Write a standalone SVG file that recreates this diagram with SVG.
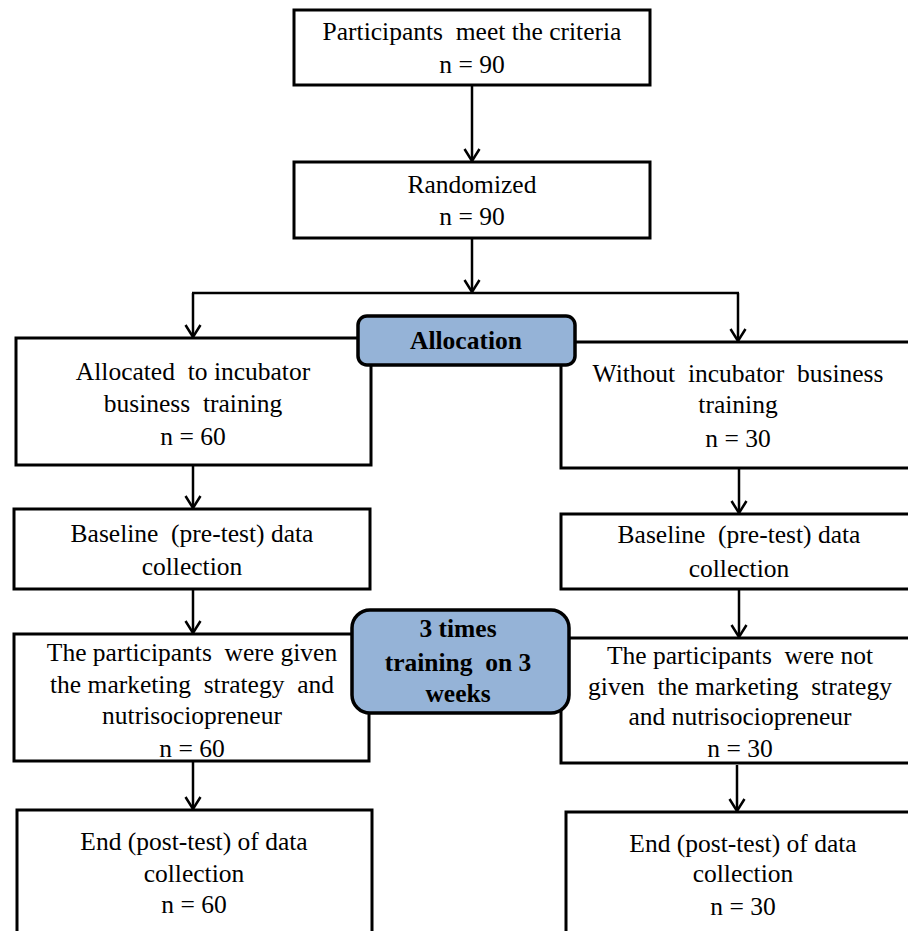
<svg xmlns="http://www.w3.org/2000/svg" width="908" height="931" viewBox="0 0 908 931" xml:space="preserve">
<style>
.box{fill:#fff;stroke:#000;stroke-width:3}
.rbox{fill:#95B3D7;stroke:#000;stroke-width:3.5}
.t{font-family:"Liberation Serif","Times New Roman",serif;font-size:25.5px;fill:#000;text-anchor:middle;white-space:pre}
.b{font-weight:bold}
.c{fill:none;stroke:#000;stroke-width:2.5}
</style>
<defs>
<marker id="arr" markerUnits="userSpaceOnUse" markerWidth="16" markerHeight="18" viewBox="0 0 14 18" refX="13" refY="9" orient="auto">
<path d="M1,1.5 L13,9 L1,16.5" fill="none" stroke="#000" stroke-width="2.5"/>
</marker>
</defs>
<rect width="908" height="931" fill="#fff"/>
<g id="connectors">
<line class="c" x1="472" y1="85" x2="472" y2="161" marker-end="url(#arr)"/>
<line class="c" x1="472" y1="238" x2="472" y2="292" marker-end="url(#arr)"/>
<line class="c" x1="192" y1="293" x2="739" y2="293"/>
<line class="c" x1="193" y1="293" x2="193" y2="337" marker-end="url(#arr)"/>
<line class="c" x1="738" y1="293" x2="738" y2="341" marker-end="url(#arr)"/>
<line class="c" x1="193" y1="465" x2="193" y2="508" marker-end="url(#arr)"/>
<line class="c" x1="739" y1="468" x2="739" y2="513" marker-end="url(#arr)"/>
<line class="c" x1="193" y1="589" x2="193" y2="633" marker-end="url(#arr)"/>
<line class="c" x1="739" y1="589" x2="739" y2="637" marker-end="url(#arr)"/>
<line class="c" x1="193" y1="761" x2="193" y2="809" marker-end="url(#arr)"/>
<line class="c" x1="737" y1="765" x2="737" y2="811" marker-end="url(#arr)"/>
</g>
<g id="n1">
<rect class="box" x="294" y="10" width="356" height="75"/>
<text class="t" x="472" y="40">Participants  meet the criteria</text>
<text class="t" x="472" y="73">n = 90</text>
</g>
<g id="n2">
<rect class="box" x="294" y="162" width="356" height="76"/>
<text class="t" x="472" y="193">Randomized</text>
<text class="t" x="472" y="225">n = 90</text>
</g>
<g id="n3">
<rect class="box" x="16" y="338" width="355" height="127"/>
<text class="t" x="193" y="380">Allocated  to incubator</text>
<text class="t" x="193" y="412">business  training</text>
<text class="t" x="193" y="445">n = 60</text>
</g>
<g id="n4">
<rect class="box" x="561" y="342" width="360" height="126"/>
<text class="t" x="738" y="382">Without  incubator  business</text>
<text class="t" x="738" y="413">training</text>
<text class="t" x="738" y="447">n = 30</text>
</g>
<g id="allocation">
<rect class="rbox" x="358" y="316" width="217" height="49" rx="9"/>
<text class="t b" x="466" y="349">Allocation</text>
</g>
<g id="n5">
<rect class="box" x="14" y="509" width="356" height="80"/>
<text class="t" x="192" y="542">Baseline  (pre-test) data</text>
<text class="t" x="192" y="575">collection</text>
</g>
<g id="n6">
<rect class="box" x="561" y="514" width="360" height="75"/>
<text class="t" x="739" y="543">Baseline  (pre-test) data</text>
<text class="t" x="739" y="577">collection</text>
</g>
<g id="n7">
<rect class="box" x="14" y="634" width="355" height="127"/>
<text class="t" x="192" y="661">The participants  were given</text>
<text class="t" x="192" y="693">the marketing  strategy  and</text>
<text class="t" x="192" y="724">nutrisociopreneur</text>
<text class="t" x="192" y="757">n = 60</text>
</g>
<g id="n8">
<rect class="box" x="561" y="638" width="360" height="125"/>
<text class="t" x="740" y="664">The participants  were not</text>
<text class="t" x="740" y="695">given  the marketing  strategy</text>
<text class="t" x="740" y="725">and nutrisociopreneur</text>
<text class="t" x="740" y="757">n = 30</text>
</g>
<g id="training">
<rect class="rbox" x="352" y="610" width="217" height="103" rx="18"/>
<text class="t b" x="458" y="637">3 times</text>
<text class="t b" x="458" y="671">training  on 3</text>
<text class="t b" x="458" y="702">weeks</text>
</g>
<g id="n9">
<rect class="box" x="17" y="810" width="355" height="135"/>
<text class="t" x="194" y="850">End (post-test) of data</text>
<text class="t" x="194" y="882">collection</text>
<text class="t" x="194" y="913">n = 60</text>
</g>
<g id="n10">
<rect class="box" x="566" y="812" width="355" height="133"/>
<text class="t" x="743" y="852">End (post-test) of data</text>
<text class="t" x="743" y="882">collection</text>
<text class="t" x="743" y="915">n = 30</text>
</g>
</svg>
